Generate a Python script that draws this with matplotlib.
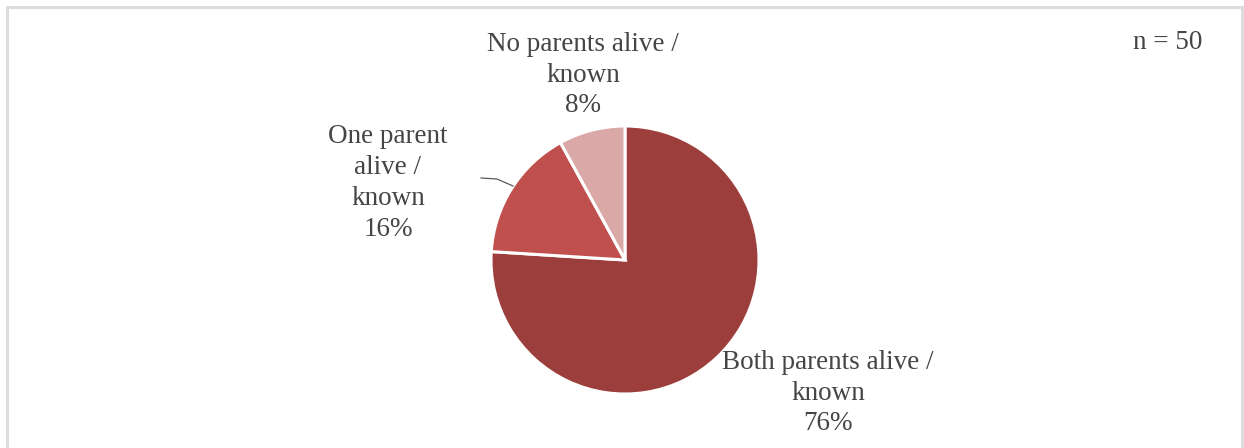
import matplotlib.pyplot as plt
from matplotlib.patches import Rectangle

# data
labels = ['Both parents alive /\nknown', 'One parent\nalive /\nknown', 'No parents alive /\nknown']
shares = [76, 16, 8]
colors = ['#9C3E3B', '#C0504D', '#D9A8A7']
n_total = 50

# label placement (pixel-like coords, y up)
label_xy = [(828, 55), (388, 265), (583, 373)]

plt.rcParams['font.family'] = ['Liberation Serif', 'DejaVu Serif']

fig = plt.figure(figsize=(12.44, 4.48), dpi=100)
ax = fig.add_axes([0, 0, 1, 1])

ax.pie(shares, colors=colors, startangle=90, counterclock=False,
       center=(625, 188), radius=134,
       wedgeprops=dict(edgecolor='white', linewidth=2.2))

for lab, val, (x, y) in zip(labels, shares, label_xy):
    ax.text(x, y, f'{lab}\n{val}%', ha='center', va='center',
            fontsize=19.5, color='#454545', linespacing=1.3)

# leader line for the small slice
ax.plot([481, 497, 513], [270, 269, 262], color='#595959', lw=0.9)

ax.text(1168, 406, f'n = {n_total}', ha='center', va='center',
        fontsize=19.5, color='#454545')

ax.add_patch(Rectangle((6.5, -10), 1235, 451.5, fill=False,
                       edgecolor='#DDDDDD', lw=2.2, clip_on=False))

ax.set_xlim(0, 1244)
ax.set_ylim(0, 448)
ax.set_aspect('equal')
ax.axis('off')

fig.savefig('out.png', dpi=100)
